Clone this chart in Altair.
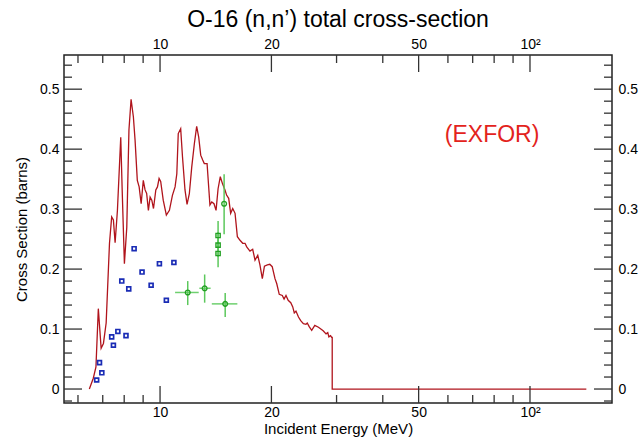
import altair as alt
import pandas as pd

# ---- evaluated cross-section curve (MeV, barns) ----
energy = [6.44, 6.60, 6.71, 6.81, 6.93, 7.03, 7.15, 7.30, 7.40, 7.48, 7.56, 7.67, 7.83, 7.90,
          8.01, 8.13, 8.24, 8.35, 8.47, 8.56, 8.68, 8.78, 8.89, 9.01, 9.11, 9.20, 9.30, 9.40,
          9.50, 9.60, 9.74, 9.84, 9.94, 10.04, 10.2, 10.4, 10.6, 10.8, 10.98, 11.1, 11.2, 11.37,
          11.5, 11.68, 11.83, 12.0, 12.18, 12.38, 12.56, 12.72, 12.88, 13.04, 13.17, 13.4, 13.64,
          13.8, 13.99, 14.17, 14.35, 14.55, 14.74, 14.98, 15.14, 15.33, 15.52, 15.72, 15.95,
          16.18, 16.45, 16.73, 16.97, 17.15, 17.5, 17.8, 18.06, 18.37, 18.62, 18.9, 19.15, 19.5,
          19.8, 20.1, 20.45, 20.67, 21.0, 21.4, 21.64, 21.9, 22.2, 22.56, 22.84, 23.06, 23.3,
          23.67, 24.0, 24.4, 24.8, 25.0, 25.3, 25.7, 26.2, 26.8, 27.2, 27.6, 28.1, 28.4, 28.6,
          28.9, 29.1, 29.2, 29.2, 142.0]
xsec = [0.0, 0.018, 0.037, 0.134, 0.068, 0.076, 0.110, 0.243, 0.287, 0.282, 0.244, 0.298, 0.420, 0.332,
        0.209, 0.270, 0.432, 0.483, 0.454, 0.415, 0.348, 0.337, 0.309, 0.348, 0.332, 0.326, 0.298, 0.320,
        0.315, 0.301, 0.332, 0.337, 0.351, 0.346, 0.315, 0.290, 0.298, 0.323, 0.337, 0.359, 0.426, 0.434,
        0.387, 0.332, 0.308, 0.326, 0.370, 0.409, 0.438, 0.420, 0.390, 0.382, 0.376, 0.376, 0.307,
        0.312, 0.309, 0.298, 0.334, 0.354, 0.343, 0.332, 0.323, 0.318, 0.293, 0.301, 0.293,
        0.254, 0.248, 0.243, 0.243, 0.237, 0.230, 0.233, 0.215, 0.223, 0.207, 0.184, 0.205, 0.207,
        0.208, 0.204, 0.184, 0.176, 0.158, 0.156, 0.150, 0.156, 0.148, 0.144, 0.137, 0.127, 0.130,
        0.120, 0.114, 0.109, 0.108, 0.110, 0.104, 0.098, 0.106, 0.103, 0.100, 0.097, 0.092, 0.094, 0.087,
        0.089, 0.086, 0.086, 0.0, 0.0]

# ---- EXFOR data set 1 (blue squares) ----
blue_e = [6.74, 6.96, 6.86, 7.48, 7.40, 7.69, 8.09, 7.88, 8.23, 8.51, 8.94, 9.46, 9.96, 10.4, 10.9]
blue_xs = [0.015, 0.027, 0.044, 0.073, 0.087, 0.096, 0.089, 0.180, 0.167, 0.234, 0.195, 0.173, 0.209, 0.148, 0.211]

# ---- EXFOR data set 2 (green circles with error bars) ----
green_e = [11.88, 13.2, 15.0, 14.9]
green_xs = [0.161, 0.168, 0.142, 0.309]
green_elo = [10.98, 12.77, 13.8, 14.9]
green_ehi = [12.72, 13.7, 16.18, 14.9]
green_lo = [0.140, 0.144, 0.120, 0.258]
green_hi = [0.180, 0.191, 0.160, 0.358]

# ---- EXFOR data set 3 (green squares) ----
gsq_e = [14.35, 14.35, 14.35]
gsq_xs = [0.256, 0.240, 0.226]
gsq_lo = [0.236, 0.220, 0.203]
gsq_hi = [0.280, 0.262, 0.248]

# ---- ticks ----
x_major = [10, 20, 50, 100]
x_minor = [6, 7, 8, 9, 30, 40, 60, 70, 80, 90]
y_major = [0.0, 0.1, 0.2, 0.3, 0.4, 0.5]
y_minor = [-0.02, 0.02, 0.04, 0.06, 0.08, 0.12, 0.14, 0.16, 0.18, 0.22, 0.24, 0.26, 0.28,
           0.32, 0.34, 0.36, 0.38, 0.42, 0.44, 0.46, 0.48, 0.52, 0.54]

W, H = 548, 348
FONT = "Liberation Sans"
xsc = alt.Scale(type="log", domain=[5.5, 166.6], nice=False)
ysc = alt.Scale(domain=[-0.0233, 0.557], nice=False, zero=False)

label_expr = "datum.value == 100 ? '10²' : datum.label"

curve_df = pd.DataFrame({"E": energy, "s": xsec, "i": list(range(len(energy)))})

bottom_axis = alt.Axis(values=x_major, labelExpr=label_expr, ticks=False, domain=False, grid=False,
                       labelFontSize=14, labelPadding=2, title="Incident Energy (MeV)",
                       titleFontSize=15, titleFontWeight="normal", titlePadding=2,
                       labelFont=FONT, titleFont=FONT, labelColor="#000", titleColor="#000")
left_axis = alt.Axis(values=y_major, format="~g", ticks=False, domain=False, grid=False,
                     labelFontSize=14, labelPadding=5, title="Cross Section (barns)",
                     titleFontSize=15, titleFontWeight="normal", titlePadding=10,
                     labelFont=FONT, titleFont=FONT, labelColor="#000", titleColor="#000")
top_axis = alt.Axis(orient="top", values=x_major, labelExpr=label_expr, ticks=False, domain=False,
                    grid=False, labelFontSize=14, labelPadding=4, title=None, labelFont=FONT,
                    labelColor="#000")
right_axis = alt.Axis(orient="right", values=y_major, format="~g", ticks=False, domain=False,
                      grid=False, labelFontSize=14, labelPadding=6, title=None, labelFont=FONT,
                      labelColor="#000")

curve = alt.Chart(curve_df).mark_line(color="#b0141c", strokeWidth=1.3).encode(
    x=alt.X("E:Q", scale=xsc, axis=bottom_axis),
    y=alt.Y("s:Q", scale=ysc, axis=left_axis),
    order=alt.Order("i:Q"),
)

axes2 = alt.Chart(curve_df).mark_point(opacity=0).encode(
    x=alt.X("E:Q", scale=xsc, axis=top_axis),
    y=alt.Y("s:Q", scale=ysc, axis=right_axis),
)

blue = alt.Chart(pd.DataFrame({"E": blue_e, "s": blue_xs})).mark_point(
    shape="square", filled=False, color="#1a2cb5", size=15, strokeWidth=1.7, opacity=1
).encode(x=alt.X("E:Q", scale=xsc, axis=None), y=alt.Y("s:Q", scale=ysc, axis=None))

gdf = pd.DataFrame({"E": green_e, "s": green_xs, "elo": green_elo, "ehi": green_ehi,
                    "lo": green_lo, "hi": green_hi})
g_h = alt.Chart(gdf).mark_rule(color="#6fd06f", strokeWidth=1.5).encode(
    x=alt.X("elo:Q", scale=xsc, axis=None), x2="ehi:Q", y=alt.Y("s:Q", scale=ysc, axis=None))
g_v = alt.Chart(gdf).mark_rule(color="#5cc85c", strokeWidth=1.5).encode(
    x=alt.X("E:Q", scale=xsc, axis=None), y=alt.Y("lo:Q", scale=ysc, axis=None), y2="hi:Q")
g_pts = alt.Chart(gdf).mark_point(shape="circle", filled=False, color="#22a022", size=22,
                                   strokeWidth=1.4, opacity=1).encode(
    x=alt.X("E:Q", scale=xsc, axis=None), y=alt.Y("s:Q", scale=ysc, axis=None))

sdf = pd.DataFrame({"E": gsq_e, "s": gsq_xs, "lo": gsq_lo, "hi": gsq_hi})
s_v = alt.Chart(sdf).mark_rule(color="#5cc85c", strokeWidth=1.5).encode(
    x=alt.X("E:Q", scale=xsc, axis=None), y=alt.Y("lo:Q", scale=ysc, axis=None), y2="hi:Q")
s_pts = alt.Chart(sdf).mark_point(shape="square", filled=False, color="#22a022", size=18,
                                  strokeWidth=1.4, opacity=1).encode(
    x=alt.X("E:Q", scale=xsc, axis=None), y=alt.Y("s:Q", scale=ysc, axis=None))

TICK = "#333333"
def xticks(vals, length):
    d = pd.DataFrame({"v": vals})
    bot = alt.Chart(d).mark_rule(color=TICK, strokeWidth=1.3).encode(
        x=alt.X("v:Q", scale=xsc, axis=None), y=alt.value(H), y2=alt.value(H - length))
    top = alt.Chart(d).mark_rule(color=TICK, strokeWidth=1.3).encode(
        x=alt.X("v:Q", scale=xsc, axis=None), y=alt.value(0), y2=alt.value(length))
    return [bot, top]

def yticks(vals, length):
    d = pd.DataFrame({"v": vals})
    lft = alt.Chart(d).mark_rule(color=TICK, strokeWidth=1.3).encode(
        y=alt.Y("v:Q", scale=ysc, axis=None), x=alt.value(0), x2=alt.value(length))
    rgt = alt.Chart(d).mark_rule(color=TICK, strokeWidth=1.3).encode(
        y=alt.Y("v:Q", scale=ysc, axis=None), x=alt.value(W), x2=alt.value(W - length))
    return [lft, rgt]

label_df = pd.DataFrame({"E": [79.0], "s": [0.423], "t": ["(EXFOR)"]})
exfor = alt.Chart(label_df).mark_text(color="#e3231c", fontSize=23, font=FONT).encode(
    x=alt.X("E:Q", scale=xsc, axis=None), y=alt.Y("s:Q", scale=ysc, axis=None), text="t:N")

layers = ([curve, axes2] + xticks(x_major, 17) + xticks(x_minor, 8) + yticks(y_major, 18)
          + yticks(y_minor, 8) + [g_h, g_v, s_v, blue, g_pts, s_pts, exfor])

chart = alt.layer(*layers).resolve_axis(x="independent", y="independent").properties(
    width=W, height=H,
    title=alt.Title("O-16 (n,n\u2019) total cross-section", fontSize=23, font=FONT,
                    fontWeight="normal", color="#000", anchor="middle", offset=5),
    autosize=alt.AutoSizeParams(type="none"),
    padding={"left": 64, "top": 55, "right": 27, "bottom": 36},
).configure_view(stroke="#222222", strokeWidth=1.5)

chart.save("out.html", embed_options={"renderer": "svg", "actions": False})
